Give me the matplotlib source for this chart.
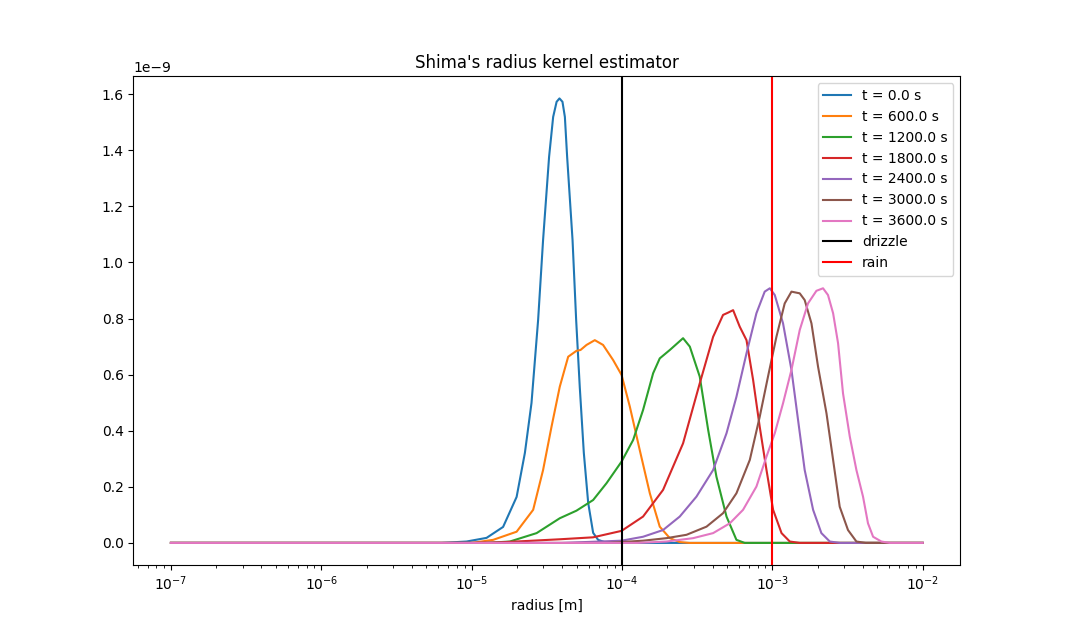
import numpy as np
import matplotlib
matplotlib.use("Agg")
import matplotlib.pyplot as plt

# log10(radius [m]) and density (in units of 1e-9)
times = [0.0, 600.0, 1200.0, 1800.0, 2400.0, 3000.0, 3600.0]

lr_0 = [-7.0, -5.2, -5.034, -4.901, -4.791, -4.701, -4.646, -4.602, -4.558, -4.525, -4.485, -4.458, -4.435,
        -4.416, -4.396, -4.380, -4.365, -4.329, -4.305, -4.281, -4.254, -4.225, -4.192, -4.159, -4.1, -2.0]
y_0 = [0.0, 0.0, 0.005, 0.018, 0.057, 0.164, 0.321, 0.499, 0.795, 1.080, 1.377, 1.519, 1.573,
       1.585, 1.573, 1.519, 1.377, 1.080, 0.795, 0.556, 0.321, 0.143, 0.036, 0.011, 0.0, 0.0]

lr_600 = [-7.0, -5.0, -4.857, -4.701, -4.591, -4.525, -4.469, -4.414, -4.358, -4.303, -4.276, -4.236, -4.181,
          -4.126, -4.059, -4.003, -3.948, -3.882, -3.815, -3.749, -3.682, -3.615, -3.55, -2.0]
y_600 = [0.0, 0.0, 0.011, 0.040, 0.118, 0.260, 0.414, 0.557, 0.664, 0.685, 0.688, 0.706, 0.723,
         0.706, 0.652, 0.599, 0.486, 0.331, 0.177, 0.058, 0.017, 0.003, 0.0, 0.0]

lr_1200 = [-7.0, -4.9, -4.746, -4.568, -4.414, -4.303, -4.192, -4.103, -4.003, -3.926, -3.860, -3.793, -3.749,
           -3.682, -3.594, -3.549, -3.483, -3.427, -3.372, -3.305, -3.239, -3.184, -2.0]
y_1200 = [0.0, 0.0, 0.005, 0.035, 0.088, 0.115, 0.153, 0.213, 0.290, 0.367, 0.474, 0.605, 0.658,
          0.688, 0.730, 0.700, 0.593, 0.403, 0.236, 0.094, 0.011, 0.0, 0.0]

lr_1800 = [-7.0, -5.0, -4.812, -4.414, -4.192, -4.003, -3.860, -3.727, -3.594, -3.483, -3.394, -3.328, -3.295,
           -3.261, -3.217, -3.172, -3.128, -3.084, -3.039, -2.995, -2.939, -2.884, -2.818, -2.0]
y_1800 = [0.0, 0.0, 0.002, 0.013, 0.020, 0.043, 0.094, 0.189, 0.355, 0.569, 0.735, 0.813, 0.821,
          0.830, 0.771, 0.723, 0.581, 0.414, 0.260, 0.118, 0.035, 0.005, 0.0, 0.0]

lr_2400 = [-7.0, -4.4, -4.148, -4.003, -3.860, -3.727, -3.616, -3.505, -3.394, -3.305, -3.239, -3.172, -3.106,
           -3.051, -3.017, -2.984, -2.929, -2.873, -2.829, -2.785, -2.729, -2.674, -2.618, -2.551, -2.0]
y_2400 = [0.0, 0.0, 0.005, 0.008, 0.022, 0.046, 0.094, 0.165, 0.260, 0.391, 0.521, 0.676, 0.819,
          0.896, 0.908, 0.884, 0.783, 0.617, 0.438, 0.260, 0.118, 0.035, 0.005, 0.0, 0.0]

lr_3000 = [-7.0, -4.1, -3.860, -3.704, -3.571, -3.438, -3.328, -3.239, -3.150, -3.084, -3.029, -2.973, -2.918,
           -2.873, -2.818, -2.785, -2.740, -2.696, -2.640, -2.596, -2.552, -2.497, -2.441, -2.379, -2.0]
y_3000 = [0.0, 0.0, 0.008, 0.017, 0.029, 0.058, 0.106, 0.177, 0.296, 0.450, 0.593, 0.735, 0.854,
          0.896, 0.890, 0.866, 0.783, 0.628, 0.462, 0.296, 0.129, 0.046, 0.005, 0.0, 0.0]

lr_3600 = [-7.0, -3.9, -3.704, -3.527, -3.394, -3.283, -3.195, -3.106, -3.039, -2.984, -2.929, -2.873, -2.818,
           -2.763, -2.707, -2.663, -2.630, -2.596, -2.563, -2.530, -2.485, -2.441, -2.397, -2.364, -2.330,
           -2.275, -2.219, -2.0]
y_3600 = [0.0, 0.0, 0.005, 0.017, 0.035, 0.070, 0.118, 0.201, 0.308, 0.391, 0.498, 0.617, 0.759,
          0.854, 0.899, 0.908, 0.884, 0.819, 0.712, 0.533, 0.379, 0.260, 0.165, 0.070, 0.022,
          0.005, 0.0, 0.0]

series = [(lr_0, y_0), (lr_600, y_600), (lr_1200, y_1200), (lr_1800, y_1800),
          (lr_2400, y_2400), (lr_3000, y_3000), (lr_3600, y_3600)]

drizzle_radius = 1e-4
rain_radius = 1e-3

fig, ax = plt.subplots(figsize=(10.67, 6.35), dpi=100)
for t, (lr, y) in zip(times, series):
    ax.plot(10.0 ** np.array(lr), np.array(y) * 1e-9, label="t = %.1f s" % t)

ax.axvline(drizzle_radius, color="black", label="drizzle")
ax.axvline(rain_radius, color="red", label="rain")

ax.set_xscale("log")
ax.set_xlabel("radius [m]")
ax.set_title("Shima's radius kernel estimator")
ax.legend(loc="upper right")

plt.savefig("out.png")
